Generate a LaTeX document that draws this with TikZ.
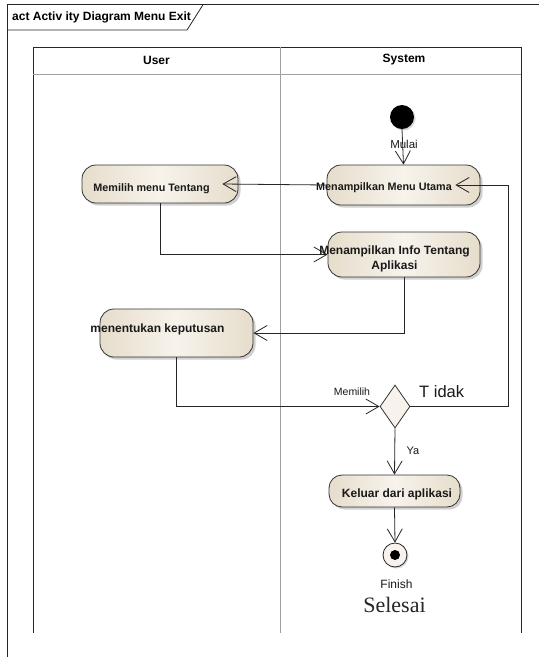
\documentclass[tikz,border=0pt]{standalone}
\usepackage{fontspec}
\setmainfont{Liberation Sans}
\newfontfamily\selfont{Liberation Serif}
\usetikzlibrary{arrows.meta,shapes.geometric,shadows}
\definecolor{beigeL}{HTML}{F7F3EC}
\definecolor{beigeD}{HTML}{E6DDCB}
\definecolor{lanegray}{HTML}{A0A0A0}
\begin{document}
\begin{tikzpicture}[x=1pt,y=-1pt,
  conn/.style={draw=black!85,line width=0.8pt},
  arr/.style={conn,-{Straight Barb[length=13pt,width=15pt]}},
  action/.style={draw=black!80,line width=0.8pt,rounded corners=14pt,
    left color=beigeD,right color=beigeD,middle color=beigeL,
    drop shadow={shadow xshift=2.5pt,shadow yshift=-2.5pt,opacity=0.3,fill=black!60},
    inner sep=0pt},
  atext/.style={font=\bfseries\fontsize{12}{15}\selectfont,text=black!90,inner sep=0pt,align=center},
  stext/.style={font=\bfseries\fontsize{10.8}{13}\selectfont,text=black!90,inner sep=0pt},
  lbl/.style={font=\fontsize{11}{13}\selectfont,text=black!90,inner sep=0pt},
  hdr/.style={font=\bfseries\fontsize{12}{14}\selectfont,inner sep=0pt}
]
\useasboundingbox (0,0) rectangle (539,657);
\fill[white] (0,0) rectangle (539,657);
% outer frame and tab
\draw[black!85,line width=0.8pt] (539,4.8) -- (7.6,4.8) -- (7.6,657);
\draw[black!85,line width=0.8pt] (7.6,30) -- (187,30) -- (203,4.8);
\node[hdr,anchor=west] (title) at (12,17.5) {act Activ ity Diagram Menu Exit};
% swimlanes
\draw[black!85,line width=0.9pt] (33,633) -- (33,47) -- (521,47) -- (521,633);
\draw[lanegray,line width=1pt] (33,74) -- (521,74);
\draw[lanegray,line width=0.8pt] (280,47) -- (280,633);
\node[hdr] (huser) at (156.5,60) {User};
\node[hdr] (hsys) at (404,60) {System};
% nodes
\node[circle,fill=black,minimum size=24pt,inner sep=0pt,
  drop shadow={shadow xshift=1.5pt,shadow yshift=-1.5pt,opacity=0.3}] (start) at (402,117) {};
\node[action,minimum width=153pt,minimum height=40pt] (mmu) at (403.5,185) {};
\node[action,minimum width=156pt,minimum height=38pt] (mem) at (160,184) {};
\node[action,minimum width=152pt,minimum height=45pt] (info) at (404,254.5) {};
\node[action,minimum width=153pt,minimum height=48pt] (men) at (176.5,333) {};
\node[diamond,draw=black!80,line width=0.8pt,fill=beigeL,inner sep=0pt,
  minimum width=30pt,minimum height=43pt] (dec) at (395,406.5) {};
\node[action,rounded corners=13pt,minimum width=131pt,minimum height=32pt] (kel) at (394.5,491) {};
\node[circle,draw=black!85,line width=0.8pt,fill=beigeL,minimum size=24pt,inner sep=0pt,
  drop shadow={shadow xshift=1.5pt,shadow yshift=-1.5pt,opacity=0.3}] (fin) at (395,555) {};
\node[circle,fill=black,minimum size=10pt,inner sep=0pt] (findot) at (fin.center) {};
% connectors
\coordinate (rt) at (508,185);
\draw[arr] (start.south) -- (mmu.north);
\draw[arr] (mmu.west) -- ([xshift=-16pt]mem.east);
\draw[arr] (mem.south) |- (info.west);
\draw[arr] (info.south) |- (men.east);
\draw[arr] (men.south) |- (dec.west);
\draw[arr] (dec.east) -| (rt) -- ([xshift=-25pt]mmu.east);
\draw[arr] (dec.south) -- (kel.north);
\draw[arr] (kel.south) -- (fin.north);
% texts
\node[stext] (tmmu) at (384,188) {Menampilkan Menu Utama};
\node[stext] (tmem) at (151.5,189) {Memilih menu Tentang};
\node[atext] (tinfo) at (394.5,259) {Menampilkan Info Tentang\\Aplikasi};
\node[atext] (tmen) at (157.5,329) {menentukan keputusan};
\node[atext] (tkel) at (397,494) {Keluar dari aplikasi};
\node[lbl,font=\fontsize{11.5}{13}\selectfont] (lmulai) at (404,144) {Mulai};
\node[lbl,font=\fontsize{10.5}{12}\selectfont] (lmemilih) at (352,392) {Memilih};
\node[lbl,font=\fontsize{16.5}{18}\selectfont,anchor=west] (ltidak) at (419,392) {T idak};
\node[lbl] (lya) at (413,451) {Ya};
\node[lbl,font=\fontsize{12}{14}\selectfont] (lfinish) at (396.5,584) {Finish};
\node[inner sep=0pt,font=\selfont\fontsize{22}{24}\selectfont,text=black!85] (lselesai) at (394.5,605) {Selesai};
\end{tikzpicture}
\end{document}
